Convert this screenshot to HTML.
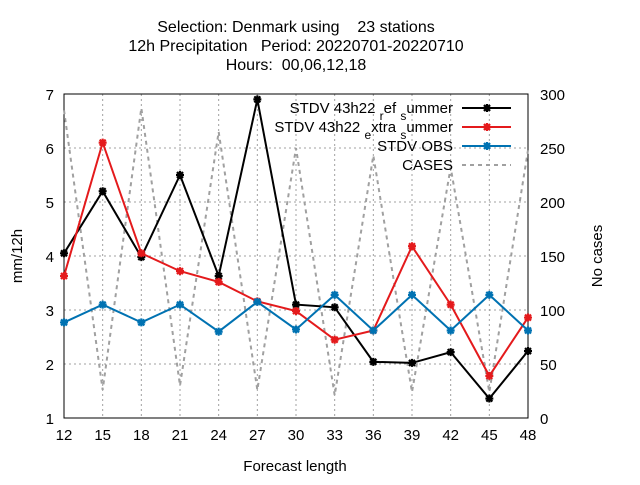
<!DOCTYPE html>
<html><head><meta charset="utf-8"><style>
body{margin:0;background:#fff;}
text{font-family:"Liberation Sans",sans-serif;font-size:15px;fill:#000;}
.big{font-size:16px;}
</style></head><body>
<svg id="c" width="640" height="480">
<text class="big" x="296" y="32" text-anchor="middle" xml:space="preserve">Selection: Denmark using    23 stations</text>
<text class="big" x="296" y="51" text-anchor="middle" xml:space="preserve">12h Precipitation   Period: 20220701-20220710</text>
<text class="big" x="296" y="70" text-anchor="middle" xml:space="preserve">Hours:  00,06,12,18</text>
<g id="grid"></g><g id="axes"></g><g id="series"></g><g id="legend"></g>
<text x="295" y="471" text-anchor="middle">Forecast length</text>
<text transform="translate(22,256) rotate(-90)" text-anchor="middle">mm/12h</text>
<text transform="translate(602,256) rotate(-90)" text-anchor="middle">No cases</text>
</svg>
<script>
const xs=[12,15,18,21,24,27,30,33,36,39,42,45,48];
const refSummer=[4.05,5.2,3.98,5.5,3.63,6.9,3.1,3.05,2.04,2.02,2.22,1.36,2.24];
const extraSummer=[3.63,6.1,4.05,3.72,3.52,3.16,2.98,2.45,2.62,4.18,3.1,1.78,2.86];
const obs=[2.77,3.1,2.77,3.1,2.6,3.15,2.64,3.28,2.62,3.28,2.62,3.28,2.62];
const cases=[285,26,287,30,265,26,250,21,243,24,232,24,248];
const yTicks=[1,2,3,4,5,6,7];
const y2Ticks=[0,50,100,150,200,250,300];
const L=64,R=528,T=94,B=418;
const NS="http://www.w3.org/2000/svg";
const X=v=>L+(v-12)/36*(R-L);
const Y=v=>B-(v-1)/6*(B-T);
const Y2=v=>B-v/300*(B-T);
function mk(p,t,a){const e=document.createElementNS(NS,t);for(const k in a)e.setAttribute(k,a[k]);p.appendChild(e);return e;}
const g=document.getElementById('grid'),ax=document.getElementById('axes'),s=document.getElementById('series'),lg=document.getElementById('legend');
xs.forEach(v=>{
 if(v>12&&v<48){const l=mk(g,'line',{x1:X(v),x2:X(v),y1:T,y2:B,stroke:'#a0a0a0','stroke-dasharray':'2,3','stroke-width':1});
 
 }
 const t=mk(ax,'text',{x:X(v),y:B+22,'text-anchor':'middle'});t.textContent=v;
 
 
});
yTicks.forEach(v=>{
 if(v>1&&v<7){const l=mk(g,'line',{x1:L,x2:R,y1:Y(v),y2:Y(v),stroke:'#a0a0a0','stroke-dasharray':'2,3','stroke-width':1});
 
 }
 const t=mk(ax,'text',{x:L-10,y:Y(v)+6,'text-anchor':'end'});t.textContent=v;
 
 
});
y2Ticks.forEach(v=>{
 const t=mk(ax,'text',{x:R+12,y:Y2(v)+6,'text-anchor':'start'});t.textContent=v;
 
 
});
const fr=mk(ax,'rect',{x:L,y:T,width:R-L,height:B-T,fill:'none',stroke:'#000','stroke-width':1});


const cp=mk(s,'polyline',{points:xs.map((v,i)=>X(v)+','+Y2(cases[i])).join(' '),fill:'none',stroke:'#a0a0a0','stroke-width':2,'stroke-dasharray':'4,4'});


function star(p,x,y,c){
 const d=`M${x-4},${y}h8M${x},${y-4}v8M${x-3},${y-3}l6,6M${x-3},${y+3}l6,-6`;
 mk(p,'path',{d:d,stroke:c,'stroke-width':2.2,fill:'none'});
}
function series(arr,c,name){
 const gg=mk(s,'g',{});
 
 
 mk(gg,'polyline',{points:xs.map((v,i)=>X(v)+','+Y(arr[i])).join(' '),fill:'none',stroke:c,'stroke-width':2});
 xs.forEach((v,i)=>star(gg,X(v),Y(arr[i]),c));
}
series(refSummer,'#000','ref-summer-series');
series(extraSummer,'#e41a1c','extra-summer-series');
series(obs,'#0072b2','obs-series');
const leg=[['STDV 43h22 <tspan baseline-shift="sub" font-size="12">r</tspan>ef <tspan baseline-shift="sub" font-size="12">s</tspan>ummer','#000',false],
['STDV 43h22 <tspan baseline-shift="sub" font-size="12">e</tspan>xtra <tspan baseline-shift="sub" font-size="12">s</tspan>ummer','#e41a1c',false],
['STDV OBS','#0072b2',false],['CASES','#a0a0a0',true]];
leg.forEach((e,i)=>{
 const y=108+i*19;
 const gg=mk(lg,'g',{});
 
 
 const t=mk(gg,'text',{x:453,y:y+5,'text-anchor':'end','font-size':16,'xml:space':'preserve'});t.innerHTML=e[0];
 if(e[2]) mk(gg,'line',{x1:462,x2:511,y1:y,y2:y,stroke:e[1],'stroke-width':2,'stroke-dasharray':'4,4'});
 else{mk(gg,'line',{x1:462,x2:511,y1:y,y2:y,stroke:e[1],'stroke-width':2});star(gg,487,y,e[1]);}
});
</script>
</body></html>
